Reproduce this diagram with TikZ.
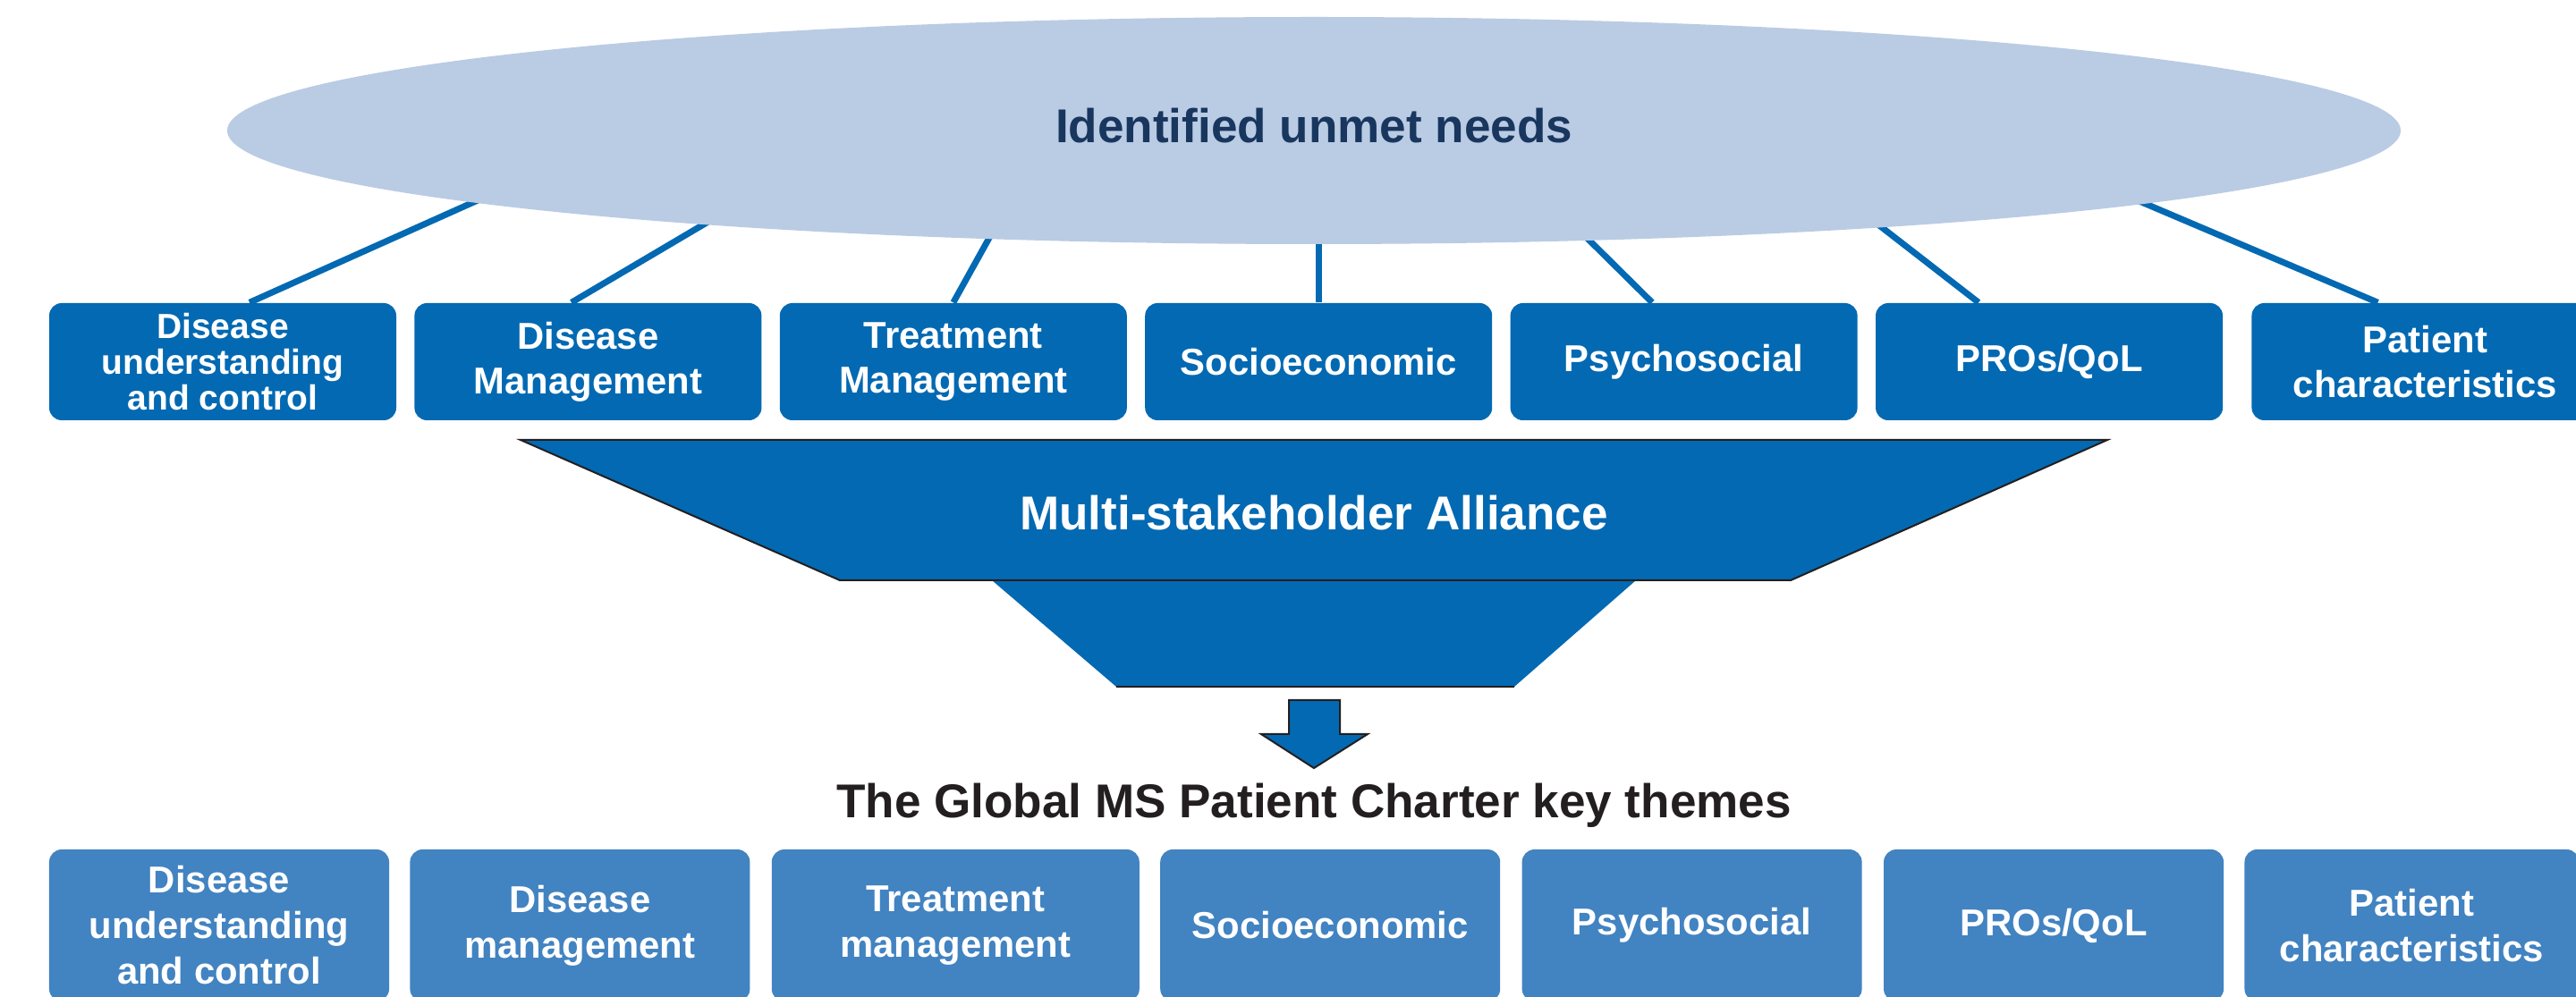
\documentclass[tikz,border=0pt]{standalone}
\usepackage{fontspec}
\setmainfont{Liberation Sans}
\usepackage{tikz}
\usetikzlibrary{positioning,shapes,backgrounds}

\definecolor{needfill}{RGB}{186,203,228}
\definecolor{needtext}{RGB}{24,54,94}
\definecolor{topblue}{RGB}{3,105,178}
\definecolor{lowblue}{RGB}{66,131,193}
\definecolor{edgegray}{RGB}{35,31,32}

\begin{document}
\begin{tikzpicture} [node distance=0.19cm,
  need/.style={rectangle,rounded corners=0.14cm,fill=topblue,text=white,
    minimum width=3.88cm,minimum height=1.31cm,inner sep=0pt,align=center,
    font=\bfseries\fontsize{11.9pt}{14.2pt}\selectfont},
  theme/.style={rectangle,rounded corners=0.14cm,fill=lowblue,text=white,
    minimum width=3.8cm,minimum height=1.7cm,inner sep=0pt,align=center,
    font=\bfseries\fontsize{11.9pt}{14.5pt}\selectfont},
  big/.style={font=\bfseries\fontsize{15.1pt}{18pt}\selectfont,inner sep=0pt},
  link/.style={draw=topblue,line width=0.07cm}]

  \useasboundingbox (0,0) rectangle (28.8,-11.15);

  \node[ellipse,fill=needfill,minimum width=24.3cm,minimum height=2.54cm,inner sep=0pt] (needs) at (14.69,-1.46) {};
  \node[big,text=needtext,anchor=base] (needslabel) at (14.69,-1.60) {Identified unmet needs};

  \node[need,font=\bfseries\fontsize{11.1pt}{11.3pt}\selectfont] (t1) at (2.49,-4.045) {Disease\\understanding\\and control};
  \node[need] (t2) [right=of t1] {Disease\\Management};
  \node[need] (t3) [right=of t2] {Treatment\\Management};
  \node[need] (t4) [right=of t3] {Socioeconomic};
  \node[need] (t5) [right=of t4] {Psychosocial};
  \node[need] (t6) [right=of t5] {PROs/QoL};
  \node[need] (t7) [right=0.31cm of t6] {Patient\\characteristics};

  % links run under the ellipse
  \begin{scope}[on background layer]
    \draw[link] ([xshift=0.30cm]t1.north) -- ([shift={(-9.17,-0.70)}]needs.center);
    \draw[link] ([xshift=-0.185cm]t2.north) -- ([shift={(-6.62,-0.93)}]needs.center);
    \draw[link] (t3.north) -- ([shift={(-3.58,-1.11)}]needs.center);
    \draw[link] (t4.north) -- (t4.north |- needs.center);
    \draw[link] ([xshift=-0.355cm]t5.north) -- ([shift={(2.99,-1.14)}]needs.center);
    \draw[link] ([xshift=-0.79cm]t6.north) -- ([shift={(6.19,-0.96)}]needs.center);
    \draw[link] ([xshift=-0.53cm]t7.north) -- ([shift={(9.04,-0.71)}]needs.center);
  \end{scope}

  \fill[topblue] (11.09,-6.49) -- (18.29,-6.49) -- (16.93,-7.68) -- (12.48,-7.68) -- cycle;
  \draw[edgegray,line width=0.02cm] (12.48,-7.68) -- (16.93,-7.68);
  \draw[fill=topblue,draw=edgegray,line width=0.02cm]
    (5.82,-4.92) -- (23.56,-4.92) -- (20.02,-6.49) -- (9.39,-6.49) -- cycle;
  \node[big,text=white,anchor=base] (alliance) at (14.69,-5.93) {Multi-stakeholder Alliance};

  \draw[fill=topblue,draw=edgegray,line width=0.02cm]
    (14.41,-7.83) -- (14.98,-7.83) -- (14.98,-8.21) -- (15.29,-8.21)
    -- (14.69,-8.59) -- (14.10,-8.21) -- (14.41,-8.21) -- cycle;

  \node[big,text=edgegray,anchor=base] (charter) at (14.69,-9.15) {The Global MS Patient Charter key themes};

  \node[theme] (b1) at (2.45,-10.35) {Disease\\understanding\\and control};
  \node[theme] (b2) [right=0.22cm of b1] {Disease\\management};
  \node[theme,minimum width=4.11cm] (b3) [right=0.23cm of b2] {Treatment\\management};
  \node[theme] (b4) [right=0.22cm of b3] {Socioeconomic};
  \node[theme] (b5) [right=0.23cm of b4] {Psychosocial};
  \node[theme] (b6) [right=0.23cm of b5] {PROs/QoL};
  \node[theme,minimum width=3.74cm] (b7) [right=0.22cm of b6] {Patient\\characteristics};

\end{tikzpicture}
\end{document}
